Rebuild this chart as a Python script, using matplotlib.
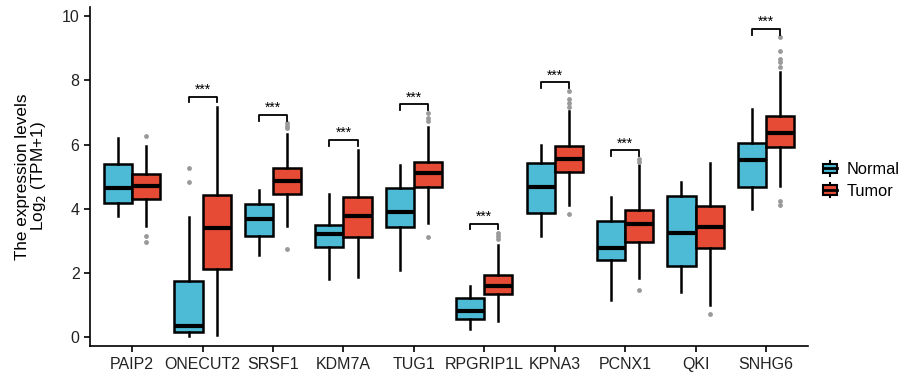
import matplotlib
matplotlib.use("Agg")
import matplotlib.pyplot as plt
from matplotlib.legend_handler import HandlerBase
from matplotlib.patches import Rectangle
from matplotlib.lines import Line2D

plt.rcParams["font.family"] = ["Liberation Sans", "DejaVu Sans"]

genes = ["PAIP2", "ONECUT2", "SRSF1", "KDM7A", "TUG1", "RPGRIP1L", "KPNA3", "PCNX1", "QKI", "SNHG6"]

# Normal group: whisker low, Q1, median, Q3, whisker high
normal_wlo = [3.77, 0.03, 2.55, 1.83, 2.09, 0.27, 3.17, 1.17, 1.40, 4.00]
normal_q1 = [4.18, 0.17, 3.17, 2.81, 3.44, 0.56, 3.87, 2.41, 2.23, 4.69]
normal_med = [4.65, 0.35, 3.68, 3.23, 3.91, 0.81, 4.67, 2.78, 3.26, 5.52]
normal_q3 = [5.39, 1.74, 4.14, 3.51, 4.65, 1.24, 5.41, 3.63, 4.40, 6.06]
normal_whi = [6.19, 3.74, 4.58, 4.45, 5.35, 1.59, 6.00, 4.36, 4.82, 7.11]
normal_out = [[], [5.27, 4.84], [], [], [], [], [], [], [], []]

# Tumor group
tumor_wlo = [3.46, 0.08, 3.46, 1.89, 3.57, 0.51, 4.11, 1.86, 1.00, 4.70]
tumor_q1 = [4.31, 2.14, 4.46, 3.11, 4.67, 1.34, 5.14, 2.96, 2.77, 5.92]
tumor_med = [4.70, 3.39, 4.88, 3.78, 5.10, 1.61, 5.54, 3.52, 3.44, 6.36]
tumor_q3 = [5.09, 4.43, 5.26, 4.36, 5.47, 1.93, 5.95, 3.95, 4.10, 6.88]
tumor_whi = [5.96, 7.17, 6.32, 5.84, 6.53, 2.89, 7.03, 5.37, 5.44, 8.25]
tumor_out = [[6.26, 3.15, 2.98], [], [6.66, 6.57, 6.50, 2.74], [], [6.97, 6.84, 6.74, 3.11],
             [3.26, 3.16, 3.06], [7.67, 7.41, 7.30, 7.17, 3.84], [5.56, 5.47, 1.47], [0.73],
             [9.35, 8.91, 8.65, 8.58, 8.40, 4.23, 4.11]]

# significance labels and bracket heights
sig_labels = ["", "***", "***", "***", "***", "***", "***", "***", "", "***"]
sig_y = [0, 7.49, 6.92, 6.14, 7.25, 3.54, 7.93, 5.82, 0, 9.60]

col_normal = "#4DBBD5"
col_tumor = "#E64B35"


def make_stats(wlo, q1, med, q3, whi, out):
    return [dict(whislo=a, q1=b, med=c, q3=d, whishi=e, fliers=f)
            for a, b, c, d, e, f in zip(wlo, q1, med, q3, whi, out)]


fig = plt.figure(figsize=(9, 3.88), dpi=100)
ax = fig.add_axes([0.1, 0.108, 0.798, 0.875])

pos = list(range(1, len(genes) + 1))
for stats, off, col in [
    (make_stats(normal_wlo, normal_q1, normal_med, normal_q3, normal_whi, normal_out), -0.2, col_normal),
    (make_stats(tumor_wlo, tumor_q1, tumor_med, tumor_q3, tumor_whi, tumor_out), 0.2, col_tumor),
]:
    ax.bxp(stats, positions=[p + off for p in pos], widths=0.4, patch_artist=True,
           showcaps=False,
           boxprops=dict(facecolor=col, edgecolor="black", linewidth=1.8),
           medianprops=dict(color="black", linewidth=3),
           whiskerprops=dict(color="black", linewidth=1.8),
           flierprops=dict(marker="o", markersize=3.5, markerfacecolor="#9a9a9a",
                           markeredgecolor="none"))

# significance brackets
for p, lab, y in zip(pos, sig_labels, sig_y):
    if not lab:
        continue
    ax.plot([p - 0.2, p - 0.2, p + 0.2, p + 0.2], [y - 0.18, y, y, y - 0.18],
            color="black", linewidth=1.3)
    ax.text(p, y + 0.0, lab, ha="center", va="bottom", fontsize=10)

ax.set_xlim(0.4, 10.6)
ax.set_ylim(-0.27, 10.29)
ax.set_xticks(pos)
ax.set_xticklabels(genes, fontsize=11.5, color="#222222")
ax.set_yticks([0, 2, 4, 6, 8, 10])
ax.tick_params(axis="y", labelsize=11.5, labelcolor="#222222", length=4, width=1.2)
ax.tick_params(axis="x", length=4, width=1.2)
for s in ["top", "right"]:
    ax.spines[s].set_visible(False)
for s in ["left", "bottom"]:
    ax.spines[s].set_linewidth(1.2)
ax.set_ylabel("The expression levels\nLog$_2$ (TPM+1)", fontsize=12.3, linespacing=0.95, labelpad=10)


class BoxHandler(HandlerBase):
    def create_artists(self, legend, orig_handle, xdescent, ydescent, width, height, fontsize, trans):
        col = orig_handle.get_facecolor()
        w = height * 1.2
        x0 = xdescent + (width - w) / 2
        rect = Rectangle((x0, -ydescent + height * 0.1), w, height * 0.8, facecolor=col,
                         edgecolor="black", linewidth=1.5, transform=trans)
        med = Line2D([x0, x0 + w], [-ydescent + height / 2] * 2, color="black", linewidth=2,
                     transform=trans)
        cx = x0 + w / 2
        wh = Line2D([cx, cx], [-ydescent - height * 0.15, -ydescent + height * 1.15], color="black",
                    linewidth=1.5, transform=trans)
        return [wh, rect, med]


handles = [Rectangle((0, 0), 1, 1, facecolor=col_normal), Rectangle((0, 0), 1, 1, facecolor=col_tumor)]
fig.legend(handles, ["Normal", "Tumor"], handler_map={Rectangle: BoxHandler()},
           loc="center left", bbox_to_anchor=(0.897, 0.535), frameon=False, fontsize=11.8,
           handlelength=1.0, handletextpad=0.5, labelspacing=0.4)

fig.savefig("out.png", dpi=100)
